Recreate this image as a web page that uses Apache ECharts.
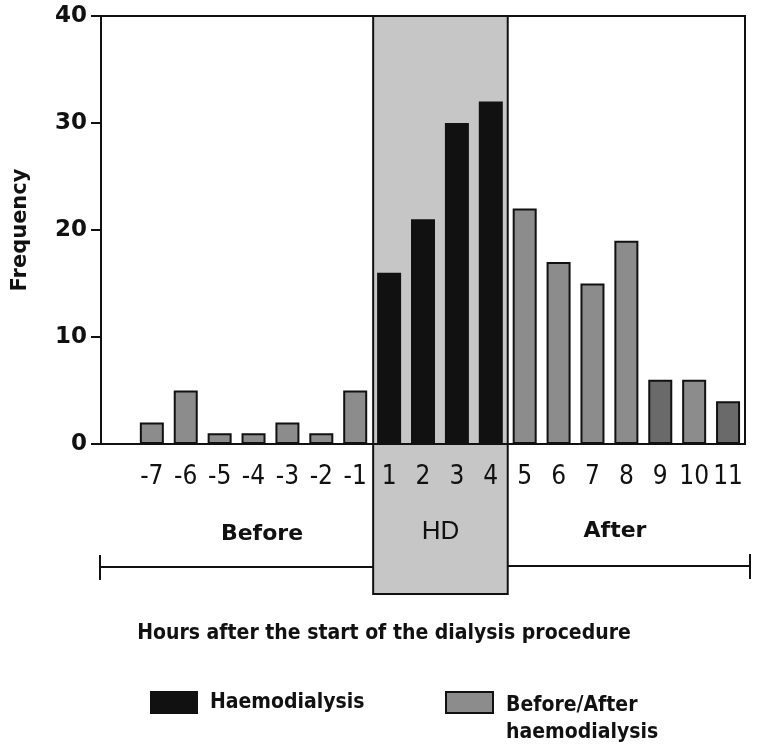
<!DOCTYPE html>
<html>
<head>
<meta charset="utf-8">
<script src="https://cdn.jsdelivr.net/npm/echarts@6/dist/echarts.min.js"></script>
<style>
html,body{margin:0;padding:0;background:#fff;}
#chart{width:758px;height:754px;}
</style>
</head>
<body>
<div id="chart"></div>
<script>
// Hours relative to start of dialysis (first slot is an empty spacer)
const hours = ['', '-7', '-6', '-5', '-4', '-3', '-2', '-1', '1', '2', '3', '4', '5', '6', '7', '8', '9', '10', '11'];
// Frequency during haemodialysis (hours 1-4)
const hdFrequency = [null, null, null, null, null, null, null, null, 16, 21, 30, 32, null, null, null, null, null, null, null];
// Frequency before / after haemodialysis
const beforeAfterFrequency = [null, 2, 5, 1, 1, 2, 1, 5, null, null, null, null, 22, 17, 15, 19, 6, 6, 4];
// Hours drawn in a darker grey
const darkHours = ['9', '11'];
const yTicks = [0, 10, 20, 30, 40];
const seriesNames = ['Haemodialysis', 'Before/After haemodialysis'];
const phaseLabels = ['Before', 'HD', 'After'];

const NARROW = '"Liberation Sans Narrow", "DejaVu Sans Condensed", "Roboto Condensed", sans-serif';
const CONDB = '"DejaVu Sans Condensed", "Liberation Sans Narrow", sans-serif';
const WIDEB = '"DejaVu Sans", "Liberation Sans", sans-serif';

const chart = echarts.init(document.getElementById('chart'), null, {renderer: 'canvas'});

const baData = beforeAfterFrequency.map((v, i) => {
  if (v === null) return '-';
  if (darkHours.includes(hours[i])) return {value: v, itemStyle: {color: '#6a6a6a'}};
  return v;
});
const hdData = hdFrequency.map(v => v === null ? '-' : v);

const option = {
  animation: false,
  backgroundColor: '#fff',
  grid: {left: 101, top: 16, right: 13, bottom: 310, show: true, borderColor: '#111', borderWidth: 2, backgroundColor: 'transparent'},
  legend: [
    {
      data: [seriesNames[0]], left: 150, top: 691, padding: 0, itemWidth: 48, itemHeight: 23, icon: 'rect',
      textStyle: {fontFamily: CONDB, fontWeight: 'bold', fontSize: 21, color: '#111', padding: [0, 0, 0, 7]},
      selectedMode: false
    },
    {
      data: [seriesNames[1]], left: 445, top: 691, padding: 0, itemWidth: 47, itemHeight: 55,
      icon: 'path://M0,0L47,0L47,21L0,21Z M0,55',
      formatter: () => 'Before/After\nhaemodialysis',
      textStyle: {fontFamily: CONDB, fontWeight: 'bold', fontSize: 21, color: '#111', lineHeight: 27, padding: [0, 0, 0, 8]},
      selectedMode: false
    }
  ],
  xAxis: {
    type: 'category',
    data: hours,
    boundaryGap: true,
    axisLine: {lineStyle: {color: '#111', width: 2}},
    axisTick: {alignWithLabel: true, length: 13, lineStyle: {color: '#111', width: 2}, interval: (i, v) => v !== ''},
    axisLabel: {interval: 0, margin: 20, fontFamily: NARROW, fontSize: 26, color: '#111'},
    name: 'Hours after the start of the dialysis procedure',
    nameLocation: 'middle',
    nameGap: 179,
    nameTextStyle: {fontFamily: CONDB, fontWeight: 'bold', fontSize: 21, color: '#111', padding: [0, 78, 0, 0]}
  },
  yAxis: {
    type: 'value', min: yTicks[0], max: yTicks[yTicks.length - 1], interval: 10,
    splitLine: {show: false},
    axisLine: {show: true, lineStyle: {color: '#111', width: 2}},
    axisTick: {show: true, length: 10, lineStyle: {color: '#111', width: 2}},
    axisLabel: {margin: 14, fontFamily: WIDEB, fontWeight: 'bold', fontSize: 23, color: '#111'},
    name: 'Frequency',
    nameLocation: 'middle',
    nameGap: 70,
    nameTextStyle: {fontFamily: WIDEB, fontWeight: 'bold', fontSize: 21, color: '#111'}
  },
  series: [
    {
      name: seriesNames[0], type: 'bar', stack: 'f', data: hdData, barWidth: 24,
      itemStyle: {color: '#111111', borderColor: '#111111', borderWidth: 0}, z: 3
    },
    {
      name: seriesNames[1], type: 'bar', stack: 'f', data: baData, barWidth: 23,
      itemStyle: {color: '#8c8c8c', borderColor: '#111', borderWidth: 2}, z: 3
    }
  ]
};
chart.setOption(option);

function drawAnnotations() {
  const cx = h => chart.convertToPixel({xAxisIndex: 0}, h);
  const yTop = chart.convertToPixel({yAxisIndex: 0}, yTicks[yTicks.length - 1]);
  const gridLeft = cx(hours[0]) - (cx(hours[1]) - cx(hours[0])) / 2;
  const gridRight = cx(hours[hours.length - 1]) + (cx(hours[1]) - cx(hours[0])) / 2;
  const hdLeft = (cx('-1') + cx('1')) / 2 + 1;
  const hdRight = (cx('4') + cx('5')) / 2;
  const boxBottom = 594;
  const lineY = 567;
  chart.setOption({
    graphic: [
      {type: 'rect', z: -1, shape: {x: hdLeft, y: yTop, width: hdRight - hdLeft, height: boxBottom - yTop},
       style: {fill: '#c6c6c6', stroke: '#111', lineWidth: 2}},
      {type: 'line', shape: {x1: gridLeft - 1, y1: lineY, x2: hdLeft, y2: lineY}, style: {stroke: '#111', lineWidth: 2}},
      {type: 'line', shape: {x1: gridLeft - 1, y1: lineY - 12, x2: gridLeft - 1, y2: lineY + 13}, style: {stroke: '#111', lineWidth: 2}},
      {type: 'line', shape: {x1: hdRight, y1: lineY - 1, x2: gridRight + 5, y2: lineY - 1}, style: {stroke: '#111', lineWidth: 2}},
      {type: 'line', shape: {x1: gridRight + 5, y1: lineY - 13, x2: gridRight + 5, y2: lineY + 12}, style: {stroke: '#111', lineWidth: 2}},
      {type: 'text', x: 262, y: 534, style: {text: phaseLabels[0], fontFamily: WIDEB, fontWeight: 'bold', fontSize: 22, fill: '#111', align: 'center', verticalAlign: 'middle'}},
      {type: 'text', x: (hdLeft + hdRight) / 2, y: 532, style: {text: phaseLabels[1], fontFamily: '"Liberation Sans", Arial, sans-serif', fontSize: 26, fill: '#111', align: 'center', verticalAlign: 'middle'}},
      {type: 'text', x: 615, y: 531, style: {text: phaseLabels[2], fontFamily: WIDEB, fontWeight: 'bold', fontSize: 22, fill: '#111', align: 'center', verticalAlign: 'middle'}}
    ]
  });
}
drawAnnotations();
</script>
</body>
</html>
